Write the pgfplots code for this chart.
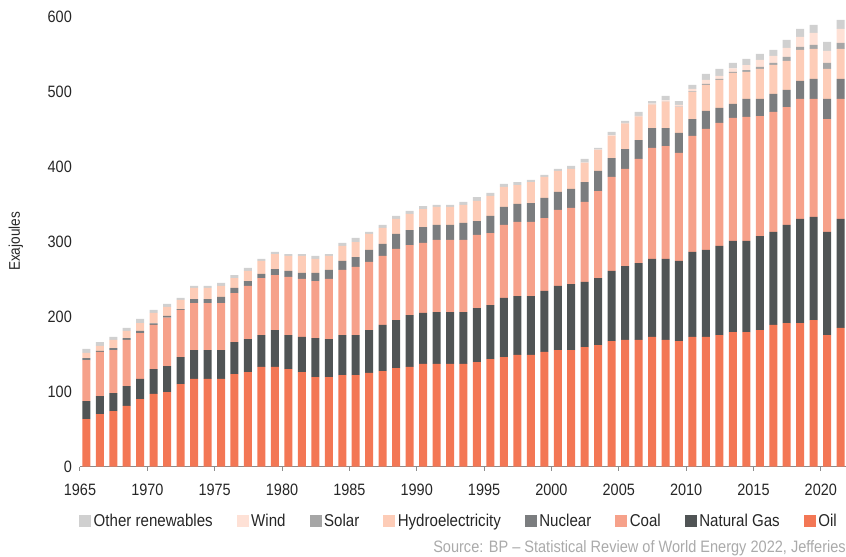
\documentclass[border=0pt]{standalone}
\usepackage{pgfplots}
\pgfplotsset{compat=1.18}
\usepackage{pgfplotstable}
\usepackage{fontspec}
\setmainfont{Liberation Sans}[FakeStretch=0.88]

\definecolor{oilc}{HTML}{F37755}
\definecolor{gasc}{HTML}{505455}
\definecolor{coalc}{HTML}{F6A18A}
\definecolor{nucc}{HTML}{7B7D7F}
\definecolor{hydroc}{HTML}{FDCCB7}
\definecolor{solarc}{HTML}{A6A6A6}
\definecolor{windc}{HTML}{FEE1D6}
\definecolor{otherc}{HTML}{D0D0D0}
\definecolor{txtc}{HTML}{262626}
\definecolor{srcc}{HTML}{AAAAAA}
\definecolor{axc}{HTML}{8C8C8C}

\pgfplotstableread{
year oil gas coal nuclear hydro solar wind other
1965 63.3 24.0 54.7 2.5 7.0 0 0 5.2
1966 70.0 24.0 58.7 1.5 6.7 0 0 5.1
1967 74.0 24.0 57.3 2.7 10.7 0 0 4.0
1968 80.7 26.6 61.4 2.6 9.4 0 0 4.0
1969 90.0 26.7 61.3 2.7 10.6 0 0 5.4
1970 96.7 33.3 58.7 2.2 13.8 0 0 4.0
1971 99.3 34.7 64.4 2.6 11.7 0 0 4.0
1972 110.0 36.0 62.7 1.3 12.0 0 0 2.7
1973 116.7 38.6 62.7 5.3 14.7 0 0 2.7
1974 116.7 38.6 62.7 5.3 14.7 0 0 2.7
1975 116.7 38.6 62.7 8.0 14.7 0 0 4.0
1976 123.3 42.7 65.3 6.7 13.3 0 0 4.0
1977 126.0 44.0 70.7 6.6 13.4 0 0 4.0
1978 132.7 42.6 76.0 5.4 17.3 0 0 2.7
1979 132.7 49.3 73.3 8.0 20.0 0 0 2.7
1980 130.0 45.3 77.4 8.0 20.0 0 0 2.6
1981 126.0 46.7 77.3 8.0 22.7 0 0 2.6
1982 119.3 52.0 76.0 10.7 18.7 0 0 4.0
1983 119.3 50.7 80.0 12.0 18.7 0 0 2.6
1984 122.0 53.3 86.7 12.0 20.0 0 0 4.0
1985 122.0 53.3 90.7 13.3 20.0 0 0 5.4
1986 124.7 57.3 90.7 16.0 21.3 0 0 2.7
1987 127.3 61.4 92.0 16.0 21.3 0 0 4.0
1988 131.3 64.0 94.7 20.0 20.0 0 0 4.0
1989 132.7 69.3 93.3 20.0 21.4 0 0 4.0
1990 136.7 68.0 93.3 21.3 24.0 0 0 4.0
1991 136.7 69.3 96.0 20.0 24.0 0 0 2.7
1992 136.7 69.3 96.0 20.0 24.0 0 0 2.7
1993 136.7 69.3 96.0 22.7 24.0 0 0 4.0
1994 139.3 72.0 97.4 18.6 26.7 0 0 5.3
1995 143.3 72.0 96.0 22.7 26.7 0 0 4.0
1996 146.0 78.7 97.3 24.0 26.7 0 0 4.0
1997 148.7 78.6 98.7 24.0 25.3 0 0 4.0
1998 148.7 78.6 98.7 25.3 28.0 0 0 2.7
1999 152.7 81.3 97.3 26.7 28.0 0 0 2.7
2000 155.3 85.4 101.3 24.0 28.0 0 0 2.7
2001 155.3 88.0 101.4 25.3 26.7 0 0 4.0
2002 159.3 86.7 106.7 26.6 25.4 0 0.5 4.8
2003 162.0 89.3 116.0 26.7 28.0 0 0.5 2.2
2004 167.3 93.4 125.3 25.3 29.4 0 0.7 4.6
2005 168.7 98.6 129.4 26.6 33.4 0.1 1.2 2.7
2006 168.7 102.6 138.7 25.3 30.7 0.2 1.2 5.3
2007 172.7 104.0 148.0 26.6 30.7 0.2 1.5 3.6
2008 168.7 108.0 150.6 24.0 34.7 0.3 1.8 5.9
2009 167.3 106.7 144.0 26.7 34.7 0.5 2.1 5.3
2010 172.7 113.3 154.7 22.6 36.1 0.8 3.2 5.3
2011 172.7 116.0 161.3 24.0 34.7 1.5 5.2 8.0
2012 175.3 118.7 164.0 20.0 37.4 1.3 4.0 9.3
2013 179.3 121.4 164.0 18.7 41.3 1.6 4.4 7.4
2014 179.3 121.4 165.3 24.0 36.0 2.5 6.7 8.2
2015 182.0 125.3 160.0 22.7 40.0 2.7 9.3 8.0
2016 188.7 124.0 160.0 24.0 38.7 2.6 9.4 8.0
2017 191.3 130.7 157.3 22.7 38.7 5.3 12.0 10.7
2018 191.3 138.7 160.0 24.0 41.4 4.0 13.3 10.7
2019 195.3 137.4 157.3 26.7 40.0 5.3 16.0 10.7
2020 175.3 137.4 150.6 26.7 40.0 8.0 16.0 12.0
2021 184.7 145.3 160.0 26.7 40.0 8.0 18.7 12.0
}\energy

\pgfplotsset{sq/.style={legend image code/.code={\fill[##1] (0bp,-6bp) rectangle (12bp,6bp);}}}

\begin{document}
\begin{tikzpicture}
\useasboundingbox (-80bp,-90.5bp) rectangle (766bp,466.5bp);
\begin{axis}[
  scale only axis, width=766bp, height=450bp,
  xmin=1964.53, xmax=2021.40, ymin=0, ymax=600,
  ybar stacked, bar width=8bp,
  axis line style={draw=none},
  xtick={1964.53,1969.53,1974.53,1979.53,1984.53,1989.53,1994.53,1999.53,2004.53,2009.53,2014.53,2019.53},
  xticklabels={1965,1970,1975,1980,1985,1990,1995,2000,2005,2010,2015,2020},
  ytick={0,100,200,300,400,500,600},
  xtick pos=bottom, ytick pos=left,
  tick align=outside, major tick length=4bp,
  x tick style={draw=axc, line width=1bp},
  y tick style={draw=none},
  /pgf/number format/assume math mode=true,
  tick label style={font=\fontsize{16.5}{18}\selectfont, text=txtc},
  yticklabel style={anchor=east, inner sep=0pt, xshift=-4bp},
  xticklabel style={anchor=north, inner sep=0pt, yshift=-13bp},
  ylabel={Exajoules},
  every axis y label/.style={at={(axis description cs:-0.0836,0.5)}, rotate=90, anchor=center, font=\fontsize{15.5}{17}\selectfont, text=txtc},
  legend columns=8, reverse legend,
  legend style={at={(axis description cs:-0.0013,-0.1211)}, anchor=west, draw=none, fill=none, inner sep=0pt,
    font=\fontsize{17.2}{19}\selectfont, text=txtc,
    /tikz/every even column/.append style={column sep=21.5bp},
    nodes={inner sep=2.5bp}},
  legend cell align=left,
  clip=false,
]
\addplot[fill=oilc, draw=none, sq] table[x=year, y=oil] {\energy};
\addplot[fill=gasc, draw=none, sq] table[x=year, y=gas] {\energy};
\addplot[fill=coalc, draw=none, sq] table[x=year, y=coal] {\energy};
\addplot[fill=nucc, draw=none, sq] table[x=year, y=nuclear] {\energy};
\addplot[fill=hydroc, draw=none, sq] table[x=year, y=hydro] {\energy};
\addplot[fill=solarc, draw=none, sq] table[x=year, y=solar] {\energy};
\addplot[fill=windc, draw=none, sq] table[x=year, y=wind] {\energy};
\addplot[fill=otherc, draw=none, sq] table[x=year, y=other] {\energy};
\legend{Oil,Natural Gas,Coal,Nuclear,Hydroelectricity,Solar,Wind,Other renewables}
\draw[axc, line width=1.2bp] (rel axis cs:0,0) -- (rel axis cs:1,0);
\end{axis}
\node[anchor=east, inner sep=0pt, text=srcc, font=\fontsize{16.6}{18}\selectfont] at (766bp,-81.5bp) {Source: BP – Statistical Review of World Energy 2022, Jefferies};
\end{tikzpicture}
\end{document}
